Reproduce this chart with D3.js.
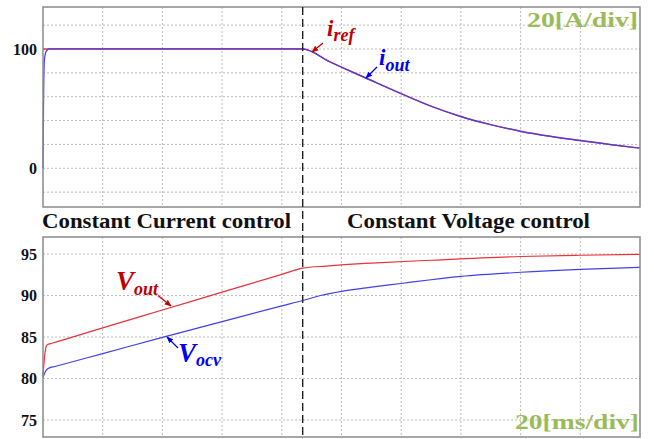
<!DOCTYPE html>
<html><head><meta charset="utf-8">
<script src="https://cdn.jsdelivr.net/npm/d3@7"></script>
<style>body{margin:0;background:#fff}svg{display:block}text{font-family:'Liberation Serif','Times New Roman',Times,serif}</style>
</head><body>
<script>
// ---- data (time in ms) ----
const iRefT = [0, 87, 96, 100, 108, 120, 130, 140, 150, 160, 170, 180, 190, 200];
const iRefV = [100, 100, 89.4, 84.8, 75.9, 62.6, 52.1, 43.4, 36.6, 31.1, 26.8, 23.2, 20.0, 16.9];
const iOutT = [0, 0.2, 0.4, 0.7, 1.2, 2, 87, 96, 100, 108, 120, 130, 140, 150, 160, 170, 180, 190, 200];
const iOutV = [0, 60, 88, 95, 98.5, 100, 100, 89.3, 84.7, 75.8, 62.5, 52.0, 43.3, 36.5, 31.0, 26.7, 23.1, 19.9, 16.8];
const vOutT = [0, 0.5, 1, 1.5, 3, 20, 40, 60, 80, 87, 95, 110, 130, 160, 180, 200];
const vOutV = [80.3, 82.5, 83.8, 84.1, 84.25, 86.1, 88.25, 90.4, 92.55, 93.3, 93.55, 93.9, 94.25, 94.7, 94.85, 94.95];
const vOcvT = [0, 0.5, 1, 2, 4, 20, 40, 60, 80, 87, 93, 100, 110, 120, 130, 140, 160, 180, 200];
const vOcvV = [80.1, 80.6, 80.95, 81.25, 81.45, 83.0, 84.95, 86.85, 88.75, 89.4, 90.0, 90.5, 91.0, 91.45, 91.9, 92.3, 92.8, 93.15, 93.4];
const switchT = 87;
const topTicks = [0, 100];
const topGrid = [-20, 0, 20, 40, 60, 80, 100, 120];
const botTicks = [75, 80, 85, 90, 95];
const timeGrid = [20, 40, 60, 80, 100, 120, 140, 160, 180];
const headerLeft = "Constant Current control";
const headerRight = "Constant Voltage control";
const scaleTop = "20[A/div]";
const scaleBot = "20[ms/div]";

const W = 654, H = 439;
const L = 43, R = 640;
const topP = {y0: 7, y1: 207}, botP = {y0: 237, y1: 437};
const serif = "'Liberation Serif','Times New Roman',Times,serif";
const red = "#e8323c", blue = "#4040e8", redTxt = "#c00000", blueTxt = "#0000f0", green = "#9bbb59";

const svg = d3.select("body").append("svg").attr("width", W).attr("height", H);
const defs = svg.append("defs");
function marker(id, col) {
  defs.append("marker").attr("id", id).attr("viewBox", "0 0 10 10").attr("refX", 9).attr("refY", 5)
    .attr("markerWidth", 7).attr("markerHeight", 7).attr("orient", "auto-start-reverse").attr("markerUnits", "userSpaceOnUse")
    .append("path").attr("d", "M0,1 L10,5 L0,9 z").attr("fill", col);
}
marker("ar", redTxt); marker("ab", blueTxt);

const x = d3.scaleLinear().domain([0, 200]).range([L, R]);
const yT = d3.scaleLinear().domain([-32.45, 135.2]).range([topP.y1, topP.y0]);
const yB = d3.scaleLinear().domain([72.95, 97.05]).range([botP.y1, botP.y0]);

function panel(p, y, hGrid, ticks) {
  const g = svg.append("g");
  g.selectAll(".hg").data(hGrid).join("line")
    .attr("x1", L).attr("x2", R).attr("y1", d => y(d)).attr("y2", d => y(d))
    .attr("stroke", "#bcbcbc").attr("stroke-width", 1).attr("stroke-dasharray", "2,2");
  g.selectAll(".vg").data(timeGrid).join("line")
    .attr("x1", d => x(d)).attr("x2", d => x(d)).attr("y1", p.y0).attr("y2", p.y1)
    .attr("stroke", "#bcbcbc").attr("stroke-width", 1).attr("stroke-dasharray", "2,2");
  const ax = g.append("g").attr("transform", `translate(${L},0)`)
    .call(d3.axisLeft(y).tickValues(ticks).tickSize(0).tickPadding(6).tickFormat(d3.format("d")));
  ax.attr("font-family", null);
  ax.select(".domain").remove();
  ax.selectAll("text").style("font-family", serif).attr("font-weight", "bold").attr("font-size", 16).attr("fill", "#111");
  return g;
}
panel(topP, yT, topGrid, topTicks);
panel(botP, yB, botTicks, botTicks);

function series(T, V, y, col, w) {
  const pts = T.map((t, i) => [t, V[i]]);
  svg.append("path").datum(pts)
    .attr("d", d3.line().x(d => x(d[0])).y(d => y(d[1])).curve(d3.curveMonotoneX))
    .attr("fill", "none").attr("stroke", col).attr("stroke-width", w);
}
series(iRefT, iRefV, yT, red, 1.5);
series(iOutT, iOutV, yT, blue, 1.25);
series(vOutT, vOutV, yB, red, 1.2);
series(vOcvT, vOcvV, yB, blue, 1.2);

// frames
[topP, botP].forEach(p => svg.append("rect").attr("x", L).attr("y", p.y0).attr("width", R - L).attr("height", p.y1 - p.y0)
  .attr("fill", "none").attr("stroke", "#8a8a8a").attr("stroke-width", 1.5));

// switch line
svg.append("line").attr("x1", x(switchT)).attr("x2", x(switchT)).attr("y1", topP.y0).attr("y2", botP.y1)
  .attr("stroke", "#222").attr("stroke-width", 1.4).attr("stroke-dasharray", "8,4");

// header texts
function txt(s, xp, yp, size, col, len, anchor) {
  return svg.append("text").attr("x", xp).attr("y", yp).style("font-family", serif).attr("font-weight", "bold")
    .attr("font-size", size).attr("fill", col).attr("text-anchor", anchor || "start")
    .attr("textLength", len).attr("lengthAdjust", "spacingAndGlyphs").text(s);
}
txt(headerLeft, 42, 228, 20, "#111", 249);
txt(headerRight, 347, 228, 20, "#111", 243);
txt(scaleTop, 527, 27, 22, green, 111);
txt(scaleBot, 515, 429, 22, green, 124);

// series labels
function label(main, sub, xp, yp, size, subSize, shift, col) {
  const t = svg.append("text").attr("x", xp).attr("y", yp).style("font-family", serif)
    .attr("font-weight", "bold").attr("font-style", "italic").attr("fill", col);
  t.append("tspan").attr("font-size", size).text(main);
  t.append("tspan").attr("font-size", subSize).attr("dy", shift).text(sub);
}
label("i", "ref", 327, 36, 23, 18, 5, redTxt);
label("i", "out", 379, 65, 23, 18, 6, blueTxt);
label("V", "out", 116, 290, 27, 18, 5, redTxt);
label("V", "ocv", 178, 362, 27, 18, 4, blueTxt);

function arrow(x1, y1, x2, y2, col, m) {
  svg.append("line").attr("x1", x1).attr("y1", y1).attr("x2", x2).attr("y2", y2)
    .attr("stroke", col).attr("stroke-width", 1.3).attr("marker-end", `url(#${m})`);
}
arrow(323, 43, 312, 52, redTxt, "ar");
arrow(377, 67, 366, 78, blueTxt, "ab");
arrow(158, 295.5, 171, 306, redTxt, "ar");
arrow(178, 348, 167, 337, blueTxt, "ab");
</script>
</body></html>
